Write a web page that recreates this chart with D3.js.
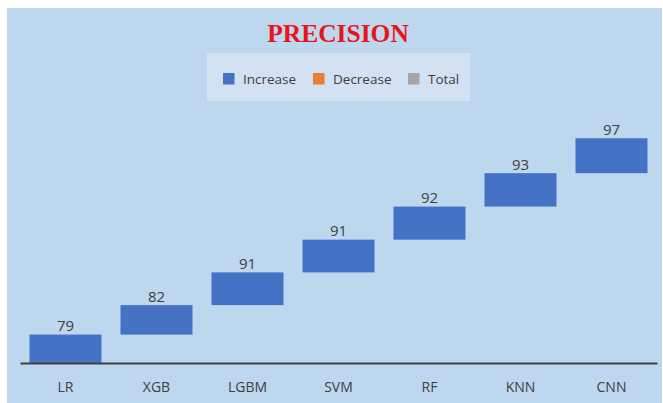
<!DOCTYPE html>
<html>
<head>
<meta charset="utf-8">
<script src="https://cdn.jsdelivr.net/npm/d3@7"></script>
<style>
  html, body { margin: 0; padding: 0; background: #ffffff; }
  svg { display: block; }
</style>
</head>
<body>
<svg id="chart" width="663" height="403"></svg>
<script>
// Model names and their precision scores (waterfall steps)
const models = ["LR", "XGB", "LGBM", "SVM", "RF", "KNN", "CNN"];
const precision = [79, 82, 91, 91, 92, 93, 97];
const legendLabels = ["Increase", "Decrease", "Total"];
const legendColors = ["#4472c4", "#ed7d31", "#a5a5a5"];

const W = 663, H = 403;
const svg = d3.select("#chart");

// Chart area background
svg.append("rect")
  .attr("x", 7).attr("y", 8)
  .attr("width", W - 8).attr("height", H - 8)
  .attr("fill", "#bdd7ee");

// Running totals: each step floats on top of the previous one
let running = 0;
const steps = models.map((m, i) => {
  const start = running;
  running += precision[i];
  return { model: m, value: precision[i], start, end: running };
});

const x = d3.scaleBand()
  .domain(models)
  .range([20, 657])
  .paddingInner(0.209)
  .paddingOuter(0.1045);

const y = d3.scaleLinear()
  .domain([0, 700])
  .range([363, 111.3]);

// Title
svg.append("text")
  .attr("x", 338).attr("y", 42)
  .attr("text-anchor", "middle")
  .attr("font-family", "'Liberation Serif', 'Times New Roman', serif")
  .attr("font-weight", "bold")
  .attr("font-size", 25.5)
  .attr("fill", "#e8141c")
  .text("PRECISION");

// Legend
const legend = svg.append("g");
legend.append("rect")
  .attr("x", 207).attr("y", 53)
  .attr("width", 263).attr("height", 48)
  .attr("fill", "#d3e2f2");
const legendX = [223, 313, 408];
legendLabels.forEach((lab, i) => {
  legend.append("rect")
    .attr("x", legendX[i]).attr("y", 73)
    .attr("width", 11.5).attr("height", 11.5)
    .attr("fill", legendColors[i]);
  legend.append("text")
    .attr("x", legendX[i] + 20).attr("y", 84)
    .attr("font-family", "'Open Sans', sans-serif")
    .attr("font-size", 13.5)
    .attr("fill", "#404040")
    .text(lab);
});

// Waterfall bars
svg.append("g").selectAll("rect")
  .data(steps)
  .join("rect")
  .attr("x", d => x(d.model))
  .attr("y", d => y(d.end))
  .attr("width", x.bandwidth())
  .attr("height", d => y(d.start) - y(d.end))
  .attr("fill", "#4472c4");

// Value labels above each bar
svg.append("g").selectAll("text")
  .data(steps)
  .join("text")
  .attr("x", d => x(d.model) + x.bandwidth() / 2)
  .attr("y", d => y(d.end) - 3.5)
  .attr("text-anchor", "middle")
  .attr("font-family", "'Open Sans', sans-serif")
  .attr("font-size", 15)
  .attr("fill", "#404040")
  .text(d => d.value);

// Category axis
const axis = svg.append("g")
  .attr("transform", "translate(0,363)")
  .call(d3.axisBottom(x).tickSize(0).tickPadding(19));
axis.select(".domain")
  .attr("stroke", "#404040")
  .attr("stroke-width", 2);
axis.selectAll(".tick text")
  .attr("font-family", "'Open Sans', sans-serif")
  .attr("font-size", 14)
  .attr("fill", "#404040");
</script>
</body>
</html>
